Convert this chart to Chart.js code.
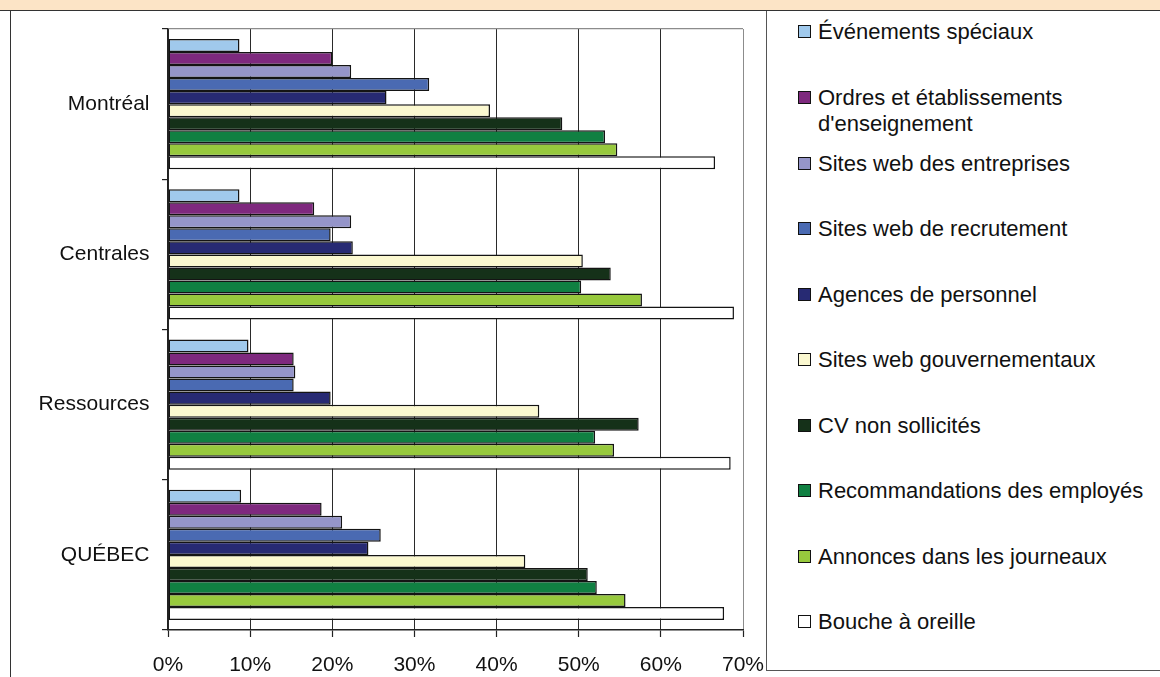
<!DOCTYPE html>
<html lang="fr">
<head>
<meta charset="utf-8">
<title>Méthodes de recrutement par région</title>
<script src="https://cdn.jsdelivr.net/npm/chart.js@4.4.1/dist/chart.umd.min.js"></script>
<style>
  html, body { margin: 0; padding: 0; background: #fff; }
  body {
    width: 1160px; height: 677px; position: relative; overflow: hidden;
    font-family: "Liberation Sans", Arial, sans-serif;
  }
  #banner {
    position: absolute; left: 0; top: 0; width: 1160px; height: 10px;
    background: #FCE4C6; border-bottom: 1.5px solid #333;
  }
  #frame {
    position: absolute; left: 10px; top: 11px; width: 0; height: 666px;
    border-left: 1.5px solid #333;
  }
  #legendBox {
    position: absolute; left: 766px; top: 11px; width: 400px; height: 660px;
    border-left: 1.5px solid #555; border-bottom: 1.5px solid #555;
    box-sizing: border-box;
  }
  #chartCanvas { position: absolute; left: 0; top: 0; }
  #legend { position: absolute; left: 0; top: 0; }
  .item {
    position: absolute; left: 798px; width: 362px;
    font-size: 22px; line-height: 25.7px; color: #111;
  }
  .swatch {
    position: absolute; left: 0; top: 6px; width: 13px; height: 13px;
    box-sizing: border-box; border: 1.5px solid #111;
  }
  .label { margin-left: 20px; }
</style>
</head>
<body>
<div id="banner"></div>
<div id="frame"></div>
<div id="legendBox"></div>
<canvas id="chartCanvas" width="766" height="677"></canvas>
<div id="legend"></div>
<script>
// Régions (catégories de l'axe vertical)
const regions = ['Montréal', 'Centrales', 'Ressources', 'QUÉBEC'];

// Graduations de l'axe horizontal (en %)
const xTicks = [0, 10, 20, 30, 40, 50, 60, 70];

// Méthodes de recrutement, dans l'ordre d'affichage
const methodes = [
  'Événements spéciaux',
  'Ordres et établissements d\'enseignement',
  'Sites web des entreprises',
  'Sites web de recrutement',
  'Agences de personnel',
  'Sites web gouvernementaux',
  'CV non sollicités',
  'Recommandations des employés',
  'Annonces dans les journeaux',
  'Bouche à oreille'
];

// Pourcentage d'entreprises par région (Montréal, Centrales, Ressources, QUÉBEC)
const evenementsSpeciaux      = [8.7, 8.7, 9.8, 8.9];
const ordresEtablissements    = [20.0, 17.8, 15.3, 18.7];
const sitesEntreprises        = [22.3, 22.3, 15.5, 21.2];
const sitesRecrutement        = [31.8, 19.8, 15.3, 25.9];
const agencesPersonnel        = [26.6, 22.5, 19.8, 24.4];
const sitesGouvernementaux    = [39.2, 50.5, 45.2, 43.5];
const cvNonSollicites         = [48.0, 53.9, 57.3, 51.1];
const recommandationsEmployes = [53.2, 50.3, 52.0, 52.2];
const annoncesJournaux        = [54.7, 57.7, 54.3, 55.7];
const boucheOreille           = [66.6, 68.9, 68.5, 67.7];

const valeurs = [
  evenementsSpeciaux, ordresEtablissements, sitesEntreprises, sitesRecrutement,
  agencesPersonnel, sitesGouvernementaux, cvNonSollicites,
  recommandationsEmployes, annoncesJournaux, boucheOreille
];

const couleurs = [
  '#A0C9EC', '#7E297E', '#9595C9', '#4A6AB2', '#272A73',
  '#FBF8D0', '#153119', '#108042', '#97C93D', '#FFFFFF'
];

const FONT = "'Liberation Sans', Arial, sans-serif";

const datasets = methodes.map((nom, i) => ({
  label: nom,
  data: valeurs[i],
  backgroundColor: couleurs[i],
  borderColor: '#141414',
  borderWidth: 1.5,
  borderSkipped: false,
  categoryPercentage: 0.866,
  barPercentage: 1.0
}));

new Chart(document.getElementById('chartCanvas'), {
  type: 'bar',
  data: { labels: regions, datasets },
  options: {
    indexAxis: 'y',
    responsive: false,
    animation: false,
    events: [],
    layout: { padding: { left: 0, right: 23, top: 29, bottom: 0 } },
    plugins: {
      legend: { display: false },
      tooltip: { enabled: false },
      title: { display: false }
    },
    scales: {
      x: {
        type: 'linear',
        position: 'bottom',
        min: xTicks[0],
        max: xTicks[xTicks.length - 1],
        afterBuildTicks: (scale) => { scale.ticks = xTicks.map(v => ({ value: v })); },
        afterFit: (scale) => {
          scale.height = 47;
          scale.paddingLeft = 0;
          scale.paddingRight = 0;
        },
        ticks: {
          callback: (v) => v + '%',
          font: { family: FONT, size: 21 },
          color: '#111',
          padding: 16,
          maxRotation: 0,
          autoSkip: false
        },
        grid: {
          color: (ctx) => ctx.index === xTicks.length - 1 ? '#8c8c8c' : '#2a2a2a',
          lineWidth: 1,
          drawTicks: true,
          tickLength: 7,
          tickColor: '#222',
          tickWidth: 1.2
        },
        border: { display: true, color: '#222', width: 1.5 }
      },
      y: {
        type: 'category',
        position: 'left',
        offset: true,
        afterFit: (scale) => {
          scale.width = 168;
          scale.paddingTop = 0;
          scale.paddingBottom = 0;
        },
        ticks: {
          font: { family: FONT, size: 21 },
          color: '#111',
          padding: 12.5
        },
        grid: {
          offset: true,
          color: (ctx) => ctx.index === 0 ? '#8c8c8c' : 'rgba(0,0,0,0)',
          lineWidth: 1.2,
          drawTicks: true,
          tickLength: 6,
          tickColor: '#222',
          tickWidth: 1.2
        },
        border: { display: true, color: '#222', width: 1.5 }
      }
    }
  }
});

// Légende : une entrée par méthode, espacement régulier
const legend = document.getElementById('legend');
methodes.forEach((nom, i) => {
  const item = document.createElement('div');
  item.className = 'item';
  item.style.top = (19.45 + i * 65.55) + 'px';
  const sw = document.createElement('span');
  sw.className = 'swatch';
  sw.style.background = couleurs[i];
  const txt = document.createElement('div');
  txt.className = 'label';
  txt.textContent = nom;
  item.appendChild(sw);
  item.appendChild(txt);
  legend.appendChild(item);
});
</script>
</body>
</html>
